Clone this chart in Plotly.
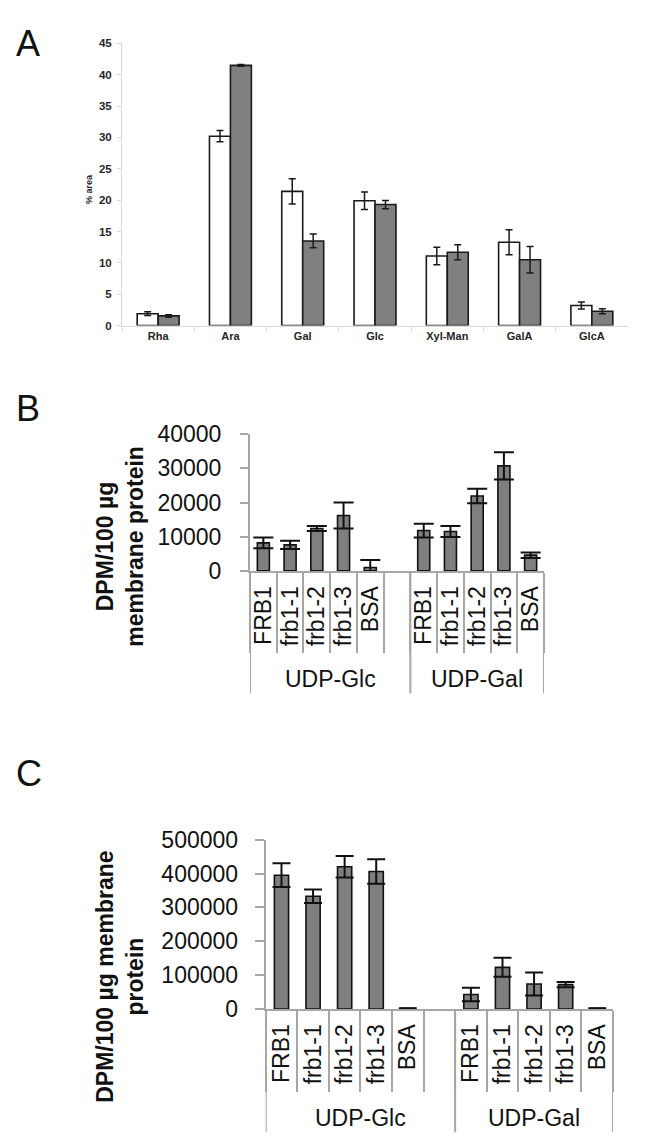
import plotly.graph_objects as go

W, H = 664, 1144
FONT = "Liberation Sans, Arial, sans-serif"

# ---------------- Data ----------------
# Panel A: monosaccharide composition (% area)
sugars = ["Rha", "Ara", "Gal", "Glc", "Xyl-Man", "GalA", "GlcA"]
a_white = [1.9, 30.2, 21.4, 19.9, 11.1, 13.3, 3.2]
a_white_err = [0.3, 0.9, 2.0, 1.4, 1.4, 2.0, 0.55]
a_gray = [1.55, 41.5, 13.5, 19.3, 11.7, 10.5, 2.3]
a_gray_err = [0.2, 0.15, 1.1, 0.65, 1.2, 2.1, 0.4]

# Panels B and C
samples = ["FRB1", "frb1-1", "frb1-2", "frb1-3", "BSA"]
substrates = ["UDP-Glc", "UDP-Gal"]

b_glc = [8200, 7600, 12400, 16200, 1000]
b_glc_err = [1600, 1200, 700, 3800, 2200]
b_gal = [11800, 11500, 21900, 30700, 4600]
b_gal_err = [2000, 1600, 2100, 4000, 800]

c_glc = [395000, 333000, 420000, 406000, 2000]
c_glc_err = [35000, 20000, 32000, 36000, 0]
c_gal = [43000, 123000, 74000, 72000, 2000]
c_gal_err = [20000, 28000, 34000, 8000, 0]

y_title_bc = ["DPM/100 µg<br>membrane protein", "DPM/100 µg membrane<br>protein"]


# ---------------- helpers ----------------
def xd(l, r):
    return [l / W, r / W]


def yd(t, b):
    return [1 - b / H, 1 - t / H]


def py(y):
    return 1 - y / H


keys = [f"{substrates[0]} {s}" for s in samples] + ["gap"] + [f"{substrates[1]} {s}" for s in samples]
ticktext = samples + [""] + samples


def combined(glc, gal):
    return list(glc) + [None] + list(gal)


def combined_err(glc, gal):
    return list(glc) + [0] + list(gal)


fig = go.Figure()

# Panel A
fig.add_trace(go.Bar(
    x=sugars, y=a_white, xaxis="x", yaxis="y", name="A1",
    marker=dict(color="white", line=dict(color="#1a1a1a", width=1.6)),
    error_y=dict(type="data", array=a_white_err, color="#1a1a1a", thickness=1.5, width=3.5),
))
fig.add_trace(go.Bar(
    x=sugars, y=a_gray, xaxis="x", yaxis="y", name="A2",
    marker=dict(color="#808080", line=dict(color="#1a1a1a", width=1.6)),
    error_y=dict(type="data", array=a_gray_err, color="#1a1a1a", thickness=1.5, width=3.5),
))

# Panel B
fig.add_trace(go.Bar(
    x=keys, y=combined(b_glc, b_gal), xaxis="x2", yaxis="y2", name="B", width=0.45,
    marker=dict(color="#7f7f7f", line=dict(color="#111111", width=1.6)),
    error_y=dict(type="data", array=combined_err(b_glc_err, b_gal_err),
                 color="#111111", thickness=2, width=10),
))

# Panel C
fig.add_trace(go.Bar(
    x=keys, y=combined(c_glc, c_gal), xaxis="x3", yaxis="y3", name="C", width=0.45,
    marker=dict(color="#7f7f7f", line=dict(color="#111111", width=1.6)),
    error_y=dict(type="data", array=combined_err(c_glc_err, c_gal_err),
                 color="#111111", thickness=2, width=9),
))

# ---- axes geometry (pixels) ----
A = dict(l=114, r=620, t=22.9, b=311.7)
B = dict(l=242, r=536, t=422.7, b=562.7)
C = dict(l=257.7, r=605, t=837.7, b=1011)

light = "#d9d9d9"
mid = "#a6a6a6"

layout = dict(
    width=W, height=H, margin=dict(l=0, r=0, t=0, b=0),
    paper_bgcolor="white", plot_bgcolor="white",
    showlegend=False, barmode="group", bargap=0.42, bargroupgap=0,
    font=dict(family=FONT, color="#111111"),
    xaxis=dict(domain=xd(A["l"], A["r"]), anchor="y", type="category",
               range=[-0.5, 6.5], showline=True, linecolor=light, linewidth=1,
               ticks="outside", tickson="boundaries", ticklen=5, tickcolor=light,
               tickfont=dict(family=FONT, size=11, weight="bold", color="#262626"),
               showgrid=False, zeroline=False, fixedrange=True),
    yaxis=dict(domain=yd(A["t"], A["b"]), anchor="x", range=[0, 45], dtick=5,
               showline=True, linecolor=light, linewidth=1, ticks="outside",
               ticklen=4, tickcolor=light, showgrid=False, zeroline=False,
               ticklabelstandoff=3,
               tickfont=dict(family=FONT, size=11.5, weight="bold", color="#262626")),
    xaxis2=dict(domain=xd(B["l"], B["r"]), anchor="y2", type="category",
                categoryorder="array", categoryarray=keys, range=[-0.5, 10.5],
                tickmode="array", tickvals=keys, ticktext=ticktext, tickangle=-90,
                ticks="outside", tickson="boundaries", ticklen=80, tickwidth=2,
                tickcolor=mid, showline=True, linecolor=mid, linewidth=2,
                ticklabelstandoff=4,
                tickfont=dict(family=FONT, size=23, color="#111111"),
                showgrid=False, zeroline=False),
    yaxis2=dict(domain=yd(B["t"], B["b"]), anchor="x2", range=[0, 40000], dtick=10000,
                tickformat="d",
                showline=True, linecolor=mid, linewidth=2, ticks="outside", ticklen=8,
                tickwidth=2, tickcolor=mid, showgrid=False, zeroline=False,
                ticklabelstandoff=14,
                tickfont=dict(family=FONT, size=23, color="#111111")),
    xaxis3=dict(domain=xd(C["l"], C["r"]), anchor="y3", type="category",
                categoryorder="array", categoryarray=keys, range=[-0.5, 10.5],
                tickmode="array", tickvals=keys, ticktext=ticktext, tickangle=-90,
                ticks="outside", tickson="boundaries", ticklen=81, tickwidth=2,
                tickcolor=mid, showline=True, linecolor=mid, linewidth=2,
                ticklabelstandoff=4,
                tickfont=dict(family=FONT, size=23, color="#111111"),
                showgrid=False, zeroline=False),
    yaxis3=dict(domain=yd(C["t"], C["b"]), anchor="x3", range=[0, 500000], dtick=100000,
                tickformat="d",
                showline=True, linecolor=mid, linewidth=2, ticks="outside", ticklen=9,
                tickwidth=2, tickcolor=mid, showgrid=False, zeroline=False,
                ticklabelstandoff=12,
                tickfont=dict(family=FONT, size=23, color="#111111")),
)
fig.update_layout(**layout)

ann = []
# panel letters
for letter, yc in [("A", 23.5), ("B", 396.5), ("C", 770)]:
    ann.append(dict(text=letter, x=6 / W, y=py(yc), xref="paper", yref="paper",
                    xanchor="left", yanchor="middle", showarrow=False,
                    font=dict(family=FONT, size=36, color="#111111")))

# y titles
ann.append(dict(text="% area", x=81 / W, y=py(172), xref="paper", yref="paper",
                textangle=-90, xanchor="center", yanchor="middle", showarrow=False,
                font=dict(family=FONT, size=9, weight="bold", color="#262626")))
ann.append(dict(text=y_title_bc[0], x=112 / W, y=py(537), xref="paper", yref="paper",
                textangle=-90, xanchor="center", yanchor="middle", showarrow=False,
                font=dict(family=FONT, size=23, weight="bold", color="#111111")))
ann.append(dict(text=y_title_bc[1], x=112 / W, y=py(978), xref="paper", yref="paper",
                textangle=-90, xanchor="center", yanchor="middle", showarrow=False,
                font=dict(family=FONT, size=23, weight="bold", color="#111111")))

# group labels
for xa, yc in [("x2", 673), ("x3", 1123)]:
    for xc, sub in [(2.5, substrates[0]), (8, substrates[1])]:
        ann.append(dict(text=sub, x=xc, xref=xa, y=py(yc), yref="paper",
                        xanchor="center", yanchor="middle", showarrow=False,
                        font=dict(family=FONT, size=23, color="#111111")))
fig.update_layout(annotations=ann)

# group dividers
shapes = []
for xa, ytop, ybot in [("x2", 562.7, 688), ("x3", 1011, 1137)]:
    for xv in [-0.5, 5.5, 10.5]:
        shapes.append(dict(type="line", xref=xa, yref="paper", x0=xv, x1=xv,
                           y0=py(ytop), y1=py(ybot), line=dict(color=mid, width=2)))
fig.update_layout(shapes=shapes)

fig.write_html("out.html")
